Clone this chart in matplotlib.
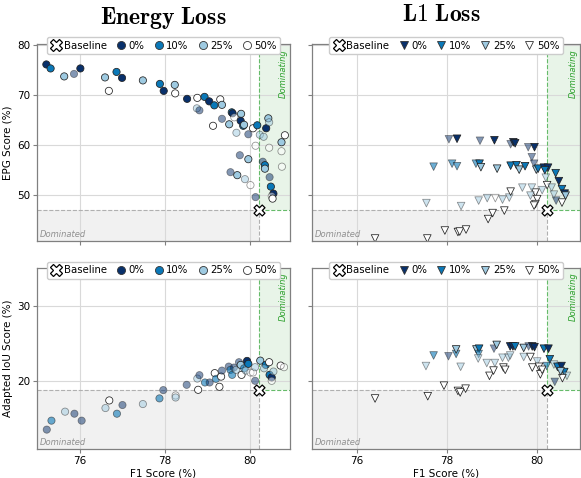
import matplotlib
matplotlib.use("Agg")
import matplotlib.pyplot as plt
from matplotlib.patches import Rectangle
from matplotlib.lines import Line2D
from matplotlib.colors import to_rgba

plt.rcParams['font.family'] = ['DejaVu Sans']
plt.rcParams['mathtext.fontset'] = 'cm'

levels = ['0%', '10%', '25%', '50%']
level_colors = ['#08306b', '#0a78b8', '#9ecae1', '#ffffff']

baseline_f1 = 80.21
baseline_epg = 47.1
baseline_iou = 18.8

# ---- Energy loss, EPG ----
energy_epg_f1 = [75.22, 75.32, 75.64, 75.87, 76.02, 76.60, 76.69, 76.87, 77.00, 77.49,
                 77.89, 77.98, 78.24, 78.25, 78.53, 78.77, 78.76, 78.82, 78.94, 79.05,
                 79.17, 79.31, 79.35, 79.14, 79.35, 79.52, 79.58, 79.60, 79.64, 79.80,
                 79.79, 79.85, 79.87, 79.69, 79.97, 80.08, 80.18, 80.14, 80.24, 80.33,
                 80.39, 80.44, 80.46, 80.46, 80.75, 80.83, 80.75, 80.76, 79.77, 79.97,
                 79.55, 79.71, 79.89, 80.02, 80.14, 80.31, 80.36, 80.36, 80.47, 80.50,
                 80.56, 80.52, 80.54]
energy_epg_score = [76.2, 75.4, 73.8, 74.3, 75.4, 73.6, 70.9, 74.7, 73.5, 73.0,
                    72.3, 70.9, 72.1, 70.4, 69.3, 69.5, 67.4, 67.0, 69.7, 68.8,
                    68.0, 69.2, 68.1, 63.9, 65.3, 64.2, 66.6, 66.4, 65.6, 66.3,
                    64.9, 63.9, 64.1, 62.5, 62.2, 63.4, 64.0, 59.9, 62.1, 61.7,
                    63.4, 65.4, 64.6, 59.5, 60.6, 62.0, 58.8, 55.7, 58.0, 57.2,
                    54.6, 54.0, 53.2, 52.0, 49.6, 56.7, 56.0, 55.3, 53.6, 51.7,
                    50.3, 49.8, 49.3]
energy_epg_level = [0, 1, 2, 0, 0, 2, 3, 1, 0, 2,
                    1, 0, 2, 3, 0, 3, 2, 0, 1, 0,
                    1, 3, 2, 3, 0, 2, 1, 0, 3, 2,
                    0, 1, 2, 2, 0, 3, 1, 3, 2, 2,
                    0, 2, 2, 3, 2, 3, 3, 3, 0, 2,
                    0, 2, 2, 3, 0, 0, 1, 2, 0, 1,
                    0, 3, 3]
energy_epg_alpha = [1, 1, 1, .5, 1, 1, 1, 1, 1, 1,
                    1, 1, 1, 1, 1, 1, .5, .5, 1, 1,
                    1, 1, 1, 1, .5, 1, 1, 1, .5, 1,
                    1, 1, 1, .5, .5, 1, 1, .5, .5, .5,
                    1, 1, .5, .5, 1, 1, .5, .5, .5, 1,
                    .5, 1, .5, .5, .5, .5, 1, 1, .5, 1,
                    1, .5, 1]

# ---- Energy loss, IoU ----
energy_iou_f1 = [75.23, 75.34, 75.66, 75.88, 76.05, 76.61, 76.70, 76.88, 77.01, 77.49,
                 77.88, 77.97, 78.26, 78.26, 78.52, 78.77, 78.82, 78.79, 78.95, 79.06,
                 79.18, 79.21, 79.29, 79.33, 79.35, 79.51, 79.55, 79.59, 79.63, 79.68,
                 79.75, 79.79, 79.81, 79.87, 79.94, 79.97, 79.91, 80.02, 80.08, 80.13,
                 80.13, 80.25, 80.38, 80.46, 80.34, 80.47, 80.52, 80.52, 80.56, 80.73,
                 80.81]
energy_iou_score = [13.57, 14.76, 15.95, 15.68, 14.76, 16.43, 17.44, 15.68, 16.83, 16.96,
                    17.71, 18.81, 18.10, 17.83, 19.51, 20.34, 20.79, 18.85, 19.82, 19.82,
                    21.06, 20.30, 19.25, 20.60, 21.40, 21.93, 21.49, 20.83, 21.80, 21.49,
                    22.51, 22.15, 20.83, 21.70, 22.68, 22.29, 21.40, 21.14, 21.14, 20.04,
                    21.85, 22.72, 22.15, 22.51, 21.70, 20.83, 20.48, 20.04, 21.27, 22.06,
                    21.85]
energy_iou_level = [0, 1, 2, 0, 0, 2, 3, 1, 0, 2,
                    1, 0, 3, 2, 0, 2, 0, 3, 1, 0,
                    3, 1, 3, 3, 0, 0, 1, 1, 0, 2,
                    0, 2, 3, 1, 0, 1, 2, 3, 3, 0,
                    2, 2, 1, 3, 2, 1, 0, 3, 2, 3,
                    3]
energy_iou_alpha = [.5, .6, .5, .5, .5, .5, 1, .6, .5, .5,
                    .6, .5, .5, .5, .5, .5, .5, 1, .6, .5,
                    1, .6, 1, 1, .5, .5, .6, .6, .5, .5,
                    .5, 1, 1, .6, 1, 1, .5, .5, .5, .5,
                    .5, 1, 1, 1, .5, 1, 1, .5, .5, 1,
                    .5]

# ---- L1 loss, EPG ----
l1_epg_f1 = [78.04, 78.22, 78.73, 79.05, 79.41, 79.47, 79.51, 79.80, 79.94, 79.88,
             79.93, 77.70, 78.11, 78.22, 78.64, 78.72, 78.75, 79.11, 79.41, 79.54,
             79.60, 79.73, 79.98, 80.02, 80.15, 80.24, 80.17, 80.41, 80.48, 80.55,
             80.61, 80.63, 80.42, 80.55, 80.19, 80.22, 80.32, 80.37, 80.11, 79.96,
             79.88, 79.67, 79.85, 80.00, 79.96, 79.93, 77.54, 78.31, 78.70, 78.89,
             79.07, 79.23, 79.38, 79.41, 79.27, 79.01, 78.91, 77.95, 78.24, 78.28,
             78.42, 76.40, 77.56]
l1_epg_score = [61.2, 61.3, 60.9, 61.0, 60.2, 60.6, 60.4, 59.6, 59.6, 57.6,
                56.3, 55.7, 56.3, 55.8, 56.3, 56.3, 55.6, 55.3, 55.9, 56.0,
                55.1, 55.8, 55.1, 55.3, 55.5, 55.5, 55.0, 54.4, 52.8, 51.2,
                50.3, 49.9, 48.9, 48.5, 53.5, 52.0, 51.5, 50.1, 51.0, 50.5,
                51.5, 51.5, 49.9, 49.2, 48.2, 47.9, 48.4, 47.8, 48.9, 49.4,
                49.4, 49.1, 49.5, 50.7, 46.9, 46.4, 45.2, 42.9, 42.6, 42.7,
                43.1, 41.3, 41.3]
l1_epg_level = [0, 0, 0, 0, 0, 0, 0, 0, 0, 0,
                0, 1, 1, 1, 1, 1, 2, 2, 1, 1,
                2, 1, 2, 1, 0, 0, 1, 1, 0, 1,
                0, 2, 0, 3, 2, 3, 2, 2, 2, 3,
                2, 2, 2, 3, 3, 3, 2, 2, 2, 2,
                3, 2, 2, 3, 3, 3, 3, 3, 3, 3,
                3, 3, 3]
l1_epg_alpha = [.5, 1, .5, 1, .5, 1, 1, .5, 1, .5,
                .5, .6, .6, .6, .6, 1, 1, 1, 1, 1,
                1, 1, 1, 1, 1, 1, 1, 1, 1, 1,
                1, 1, .5, 1, .5, 1, .5, .5, .5, 1,
                .5, .5, .5, 1, 1, 1, .5, .5, .5, .5,
                .5, .5, .5, 1, 1, 1, 1, 1, 1, 1,
                1, 1, 1]

# ---- L1 loss, IoU ----
l1_iou_f1 = [76.40, 77.57, 77.53, 77.70, 77.93, 78.03, 78.20, 78.20, 78.24, 78.29,
             78.41, 78.30, 78.65, 78.71, 78.70, 78.69, 78.88, 78.94, 79.03, 79.04,
             79.10, 79.06, 79.23, 79.25, 79.29, 79.36, 79.40, 79.40, 79.46, 79.51,
             79.70, 79.70, 79.81, 79.89, 79.94, 79.85, 79.89, 80.00, 80.04, 80.15,
             80.25, 80.28, 80.21, 80.07, 80.11, 80.37, 80.45, 80.54, 80.60, 80.66,
             80.56, 80.39, 80.52]
l1_iou_score = [17.7, 18.0, 22.0, 23.4, 19.4, 23.3, 23.6, 24.2, 18.7, 18.5,
                19.0, 21.9, 24.2, 24.3, 23.6, 23.0, 22.4, 20.7, 21.4, 24.3,
                24.8, 22.4, 23.1, 21.8, 21.5, 23.1, 23.4, 24.6, 24.6, 24.6,
                24.4, 23.2, 24.6, 24.6, 24.5, 23.2, 21.8, 22.6, 21.9, 24.3,
                24.3, 22.9, 22.0, 20.9, 21.5, 22.2, 21.9, 22.0, 21.2, 20.7,
                20.4, 19.9, 21.3]
l1_iou_level = [3, 3, 2, 1, 3, 0, 1, 2, 3, 3,
                3, 2, 2, 1, 1, 2, 2, 3, 3, 0,
                2, 2, 2, 3, 3, 2, 2, 0, 0, 1,
                2, 2, 0, 0, 0, 3, 3, 2, 3, 1,
                0, 1, 1, 3, 3, 2, 1, 0, 1, 2,
                3, 0, 2]
l1_iou_alpha = [1, 1, .5, .6, 1, .5, .6, 1, 1, 1,
                1, .5, 1, 1, .6, .5, .5, 1, 1, .5,
                1, .5, .5, 1, 1, .5, .5, 1, 1, 1,
                1, .5, .5, 1, 1, 1, 1, .5, 1, 1,
                1, 1, .6, 1, 1, .5, 1, 1, 1, .5,
                1, .5, 1]

xlim = (75.0, 80.95)
fig = plt.figure(figsize=(5.81, 4.78), dpi=100)
W, H = 581, 478


def ax_at(x0, y0, x1, y1):
    return fig.add_axes([x0 / W, 1 - y1 / H, (x1 - x0) / W, (y1 - y0) / H])


ax_tl = ax_at(37, 44, 290, 241)
ax_tr = ax_at(312, 44, 580, 241)
ax_bl = ax_at(37, 268, 290, 449)
ax_br = ax_at(312, 268, 580, 449)

panels = [
    (ax_tl, energy_epg_f1, energy_epg_score, energy_epg_level, energy_epg_alpha, 'o', baseline_epg, (40.8, 80.3)),
    (ax_tr, l1_epg_f1, l1_epg_score, l1_epg_level, l1_epg_alpha, 'v', baseline_epg, (40.8, 80.3)),
    (ax_bl, energy_iou_f1, energy_iou_score, energy_iou_level, energy_iou_alpha, 'o', baseline_iou, (11.0, 35.0)),
    (ax_br, l1_iou_f1, l1_iou_score, l1_iou_level, l1_iou_alpha, 'v', baseline_iou, (11.0, 35.0)),
]

for ax, f1, sc, lv, al, mk, by, ylim in panels:
    ax.set_xlim(*xlim)
    ax.set_ylim(*ylim)
    ax.set_axisbelow(True)
    ax.grid(True, color='#d9d9d9', linewidth=0.8)
    for s in ax.spines.values():
        s.set_color('#808080')
        s.set_linewidth(0.9)
    ax.tick_params(labelsize=7.5, length=3, pad=2, color='#808080')
    ax.set_xticks([76, 78, 80])
    # dominated region
    ax.add_patch(Rectangle((xlim[0], ylim[0]), baseline_f1 - xlim[0], by - ylim[0],
                           facecolor='#bdbdbd', alpha=0.2, edgecolor='none', zorder=0.5))
    ax.plot([xlim[0], baseline_f1], [by, by], ls='--', color='#b0b0b0', lw=0.8, zorder=0.6)
    ax.plot([baseline_f1, baseline_f1], [ylim[0], by], ls='--', color='#b0b0b0', lw=0.8, zorder=0.6)
    # dominating region
    ax.add_patch(Rectangle((baseline_f1, by), xlim[1] - baseline_f1, ylim[1] - by,
                           facecolor='#a5d6a7', alpha=0.25, edgecolor='none', zorder=0.5))
    ax.plot([baseline_f1, xlim[1]], [by, by], ls='--', color='#66bb6a', lw=0.8, zorder=0.6)
    ax.plot([baseline_f1, baseline_f1], [by, ylim[1]], ls='--', color='#66bb6a', lw=0.8, zorder=0.6)
    ax.text(0.012, 0.012, 'Dominated', transform=ax.transAxes, fontsize=6, style='italic',
            color='#909090', ha='left', va='bottom')
    ax.text(0.993, 0.975, 'Dominating', transform=ax.transAxes, fontsize=6, style='italic',
            color='#2ca02c', ha='right', va='top', rotation=90)
    fc = [to_rgba(level_colors[l], a) for l, a in zip(lv, al)]
    ec = [to_rgba('#222222', a) for l, a in zip(lv, al)]
    ax.scatter(f1, sc, s=27 if mk == 'o' else 30, marker=mk, c=fc, edgecolors=ec,
               linewidths=0.55, zorder=3)
    ax.scatter([baseline_f1], [by], marker='X', s=62, facecolor='white', edgecolor='black',
               linewidths=0.9, zorder=4)
    handles = [Line2D([], [], ls='none', marker='X', markersize=8, markerfacecolor='white',
                      markeredgecolor='black', markeredgewidth=0.9, label='Baseline')]
    for lab, col in zip(levels, level_colors):
        handles.append(Line2D([], [], ls='none', marker=mk, markersize=5.8, markerfacecolor=col,
                              markeredgecolor='#333333', markeredgewidth=0.6, label=lab))
    leg = ax.legend(handles=handles, loc='upper center', bbox_to_anchor=(0.5, 1.035), ncol=5,
                    fontsize=7.3, handletextpad=0.15, columnspacing=0.8, borderpad=0.35,
                    handlelength=1.2, framealpha=1.0, edgecolor='#cccccc', borderaxespad=0.0)
    leg.set_zorder(10)

for ax in (ax_tl, ax_tr):
    ax.tick_params(labelbottom=False)
for ax in (ax_tr, ax_br):
    ax.tick_params(labelleft=False)
ax_tl.set_yticks([50, 60, 70, 80])
ax_tr.set_yticks([50, 60, 70, 80])
ax_bl.set_yticks([20, 30])
ax_br.set_yticks([20, 30])

ax_tl.set_ylabel('EPG Score (%)', fontsize=7.5, labelpad=3)
ax_bl.set_ylabel('Adapted IoU Score (%)', fontsize=7.5, labelpad=3)
ax_bl.set_xlabel('F1 Score (%)', fontsize=7.5, labelpad=2)
ax_br.set_xlabel('F1 Score (%)', fontsize=7.5, labelpad=2)

fig.text(163 / W, 1 - 18 / H, r'$\mathbf{Energy\ Loss}$', ha='center', va='center', fontsize=17)
fig.text(441 / W, 1 - 14 / H, r'$\mathbf{L1\ Loss}$', ha='center', va='center', fontsize=17)

fig.savefig('out.png', dpi=100)
